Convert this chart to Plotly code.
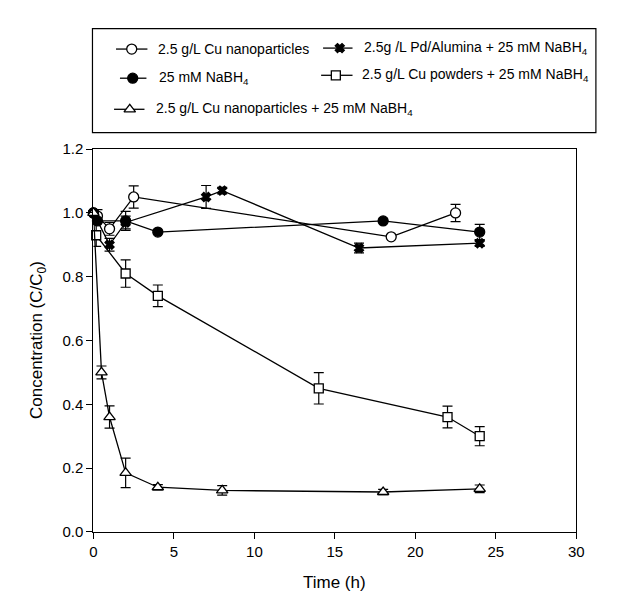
import plotly.graph_objects as go

W, H = 643, 596

# ---- data ----
t_cu_np = [0, 0.25, 1, 2.5, 18.5, 22.5]
c_cu_np = [1.0, 0.99, 0.95, 1.05, 0.925, 1.0]
e_cu_np = [0.0, 0.02, 0.02, 0.035, 0.0, 0.027]

t_nabh4 = [0, 0.25, 2, 4, 18, 24]
c_nabh4 = [1.0, 0.975, 0.975, 0.94, 0.975, 0.94]
e_nabh4 = [0.01, 0.0, 0.03, 0.0, 0.0, 0.024]

t_pd = [0, 1, 2, 7, 8, 16.5, 24]
c_pd = [1.0, 0.90, 0.97, 1.05, 1.07, 0.89, 0.905]
e_pd = [0.01, 0.02, 0.02, 0.036, 0.01, 0.015, 0.01]

t_cu_pw = [0.17, 2, 4, 14, 22, 24]
c_cu_pw = [0.93, 0.81, 0.74, 0.45, 0.36, 0.30]
e_cu_pw = [0.035, 0.043, 0.034, 0.049, 0.034, 0.03]

t_cu_np_b = [0, 0.5, 1, 2, 4, 8, 18, 24]
c_cu_np_b = [1.0, 0.50, 0.36, 0.185, 0.14, 0.13, 0.125, 0.135]
e_cu_np_b = [0.0, 0.02, 0.035, 0.046, 0.008, 0.015, 0.008, 0.012]

x_ticks = [0, 5, 10, 15, 20, 25, 30]
y_ticks = [0.0, 0.2, 0.4, 0.6, 0.8, 1.0, 1.2]
y_tick_text = ["0.0", "0.2", "0.4", "0.6", "0.8", "1.0", "1.2"]

legend_names = [
    "2.5 g/L Cu nanoparticles",
    "2.5g /L Pd/Alumina + 25 mM NaBH<sub>4</sub>",
    "25 mM NaBH<sub>4</sub>",
    "2.5 g/L Cu powders + 25 mM NaBH<sub>4</sub>",
    "2.5 g/L Cu nanoparticles + 25 mM NaBH<sub>4</sub>",
]

FONT = "Liberation Sans, Arial, sans-serif"
LW = 1.3

styles = {
    "cu_np": dict(symbol="circle", size=10, color="white"),
    "pd": dict(symbol="x", size=8, color="black"),
    "nabh4": dict(symbol="circle", size=10, color="black"),
    "cu_pw": dict(symbol="square", size=9, color="white"),
    "cu_np_b": dict(symbol="triangle-up", size=10, color="white"),
}

fig = go.Figure()

def add_series(t, c, e, key):
    st = styles[key]
    fig.add_trace(go.Scatter(
        x=t, y=c, mode="lines+markers",
        line=dict(color="black", width=LW),
        marker=dict(symbol=st["symbol"], size=st["size"], color=st["color"],
                    line=dict(color="black", width=LW)),
        error_y=dict(type="data", array=e, visible=True, color="black",
                     thickness=1.2, width=5),
        showlegend=False, xaxis="x", yaxis="y", cliponaxis=False,
    ))

add_series(t_cu_np, c_cu_np, e_cu_np, "cu_np")
add_series(t_nabh4, c_nabh4, e_nabh4, "nabh4")
add_series(t_pd, c_pd, e_pd, "pd")
add_series(t_cu_pw, c_cu_pw, e_cu_pw, "cu_pw")
add_series(t_cu_np_b, c_cu_np_b, e_cu_np_b, "cu_np_b")

# ---- custom legend (pixel overlay axes) ----
box = dict(x0=82, x1=595, y0=12, y1=119)
leg_items = [
    ("cu_np", 106, 138, 122, 33, 147, legend_names[0]),
    ("pd", 317, 347, 334, 32, 357, legend_names[1]),
    ("nabh4", 110, 137, 123, 63, 148, legend_names[2]),
    ("cu_pw", 315, 347, 330, 60, 355, legend_names[3]),
    ("cu_np_b", 104, 135, 120, 95, 145, legend_names[4]),
]
annotations = []
for key, lx0, lx1, mx, ry, tx, name in leg_items:
    st = styles[key]
    fig.add_trace(go.Scatter(
        x=[lx0, lx1], y=[ry, ry], mode="lines",
        line=dict(color="black", width=LW), showlegend=False,
        xaxis="x2", yaxis="y2", hoverinfo="skip"))
    fig.add_trace(go.Scatter(
        x=[mx], y=[ry], mode="markers",
        marker=dict(symbol=st["symbol"], size=st["size"], color=st["color"],
                    line=dict(color="black", width=LW)),
        showlegend=False, xaxis="x2", yaxis="y2", hoverinfo="skip"))
    annotations.append(dict(x=tx, y=ry, xref="x2", yref="y2", text=name,
                            showarrow=False, xanchor="left", yanchor="middle",
                            font=dict(family=FONT, size=14, color="black")))

px0, px1, py0, py1 = 83, 575, 136, 530

annotations.append(dict(x=(px0 + px1) / 2, y=582, xref="x2", yref="y2",
                        text="Time (h)", showarrow=False,
                        font=dict(family=FONT, size=17, color="black")))
annotations.append(dict(x=26, y=(py0 + py1) / 2, xref="x2", yref="y2",
                        text="Concentration (C/C<sub>0</sub>)", showarrow=False,
                        textangle=-90,
                        font=dict(family=FONT, size=17, color="black")))

shapes = [dict(type="rect", xref="x2", yref="y2", x0=box["x0"], x1=box["x1"],
               y0=box["y0"], y1=box["y1"], line=dict(color="black", width=1.2),
               fillcolor="rgba(0,0,0,0)")]

fig.update_layout(
    width=W, height=H,
    margin=dict(l=0, r=0, t=0, b=0),
    paper_bgcolor="white", plot_bgcolor="rgba(0,0,0,0)",
    font=dict(family=FONT, size=15, color="black"),
    annotations=annotations, shapes=shapes,
    xaxis=dict(domain=[px0 / W, px1 / W], range=[0, 30], tickvals=x_ticks,
               ticks="outside", ticklen=6, tickwidth=1.2, tickcolor="black",
               showline=True, linecolor="black", linewidth=1.2, mirror=True,
               showgrid=False, zeroline=False,
               tickfont=dict(family=FONT, size=15), anchor="y"),
    yaxis=dict(domain=[1 - py1 / H, 1 - py0 / H], range=[0, 1.2],
               tickvals=y_ticks, ticktext=y_tick_text,
               ticks="outside", ticklen=6, tickwidth=1.2, tickcolor="black",
               showline=True, linecolor="black", linewidth=1.2, mirror=True,
               showgrid=False, zeroline=False,
               tickfont=dict(family=FONT, size=15), anchor="x"),
    xaxis2=dict(domain=[0, 1], range=[0, W], visible=False, anchor="y2",
                fixedrange=True),
    yaxis2=dict(domain=[0, 1], range=[H, 0], visible=False, anchor="x2",
                fixedrange=True),
)

fig.write_html("out.html")
